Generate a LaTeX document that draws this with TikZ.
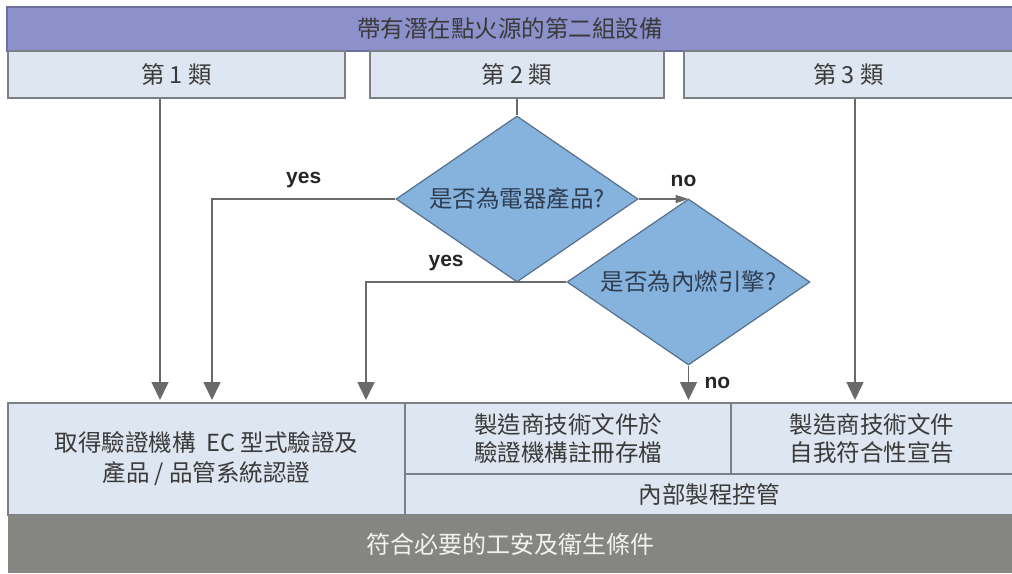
\documentclass[tikz,border=0pt]{standalone}
\usepackage{fontspec}
\setmainfont{Noto Sans CJK TC}
\newfontfamily\latin{Liberation Sans}
\usetikzlibrary{shapes.geometric,arrows.meta}
\definecolor{barpurple}{HTML}{8C91CB}
\definecolor{barline}{HTML}{6C6F9E}
\definecolor{boxblue}{HTML}{DDE6F1}
\definecolor{boxline}{HTML}{7C8086}
\definecolor{diafill}{HTML}{86B2DE}
\definecolor{dialine}{HTML}{56708C}
\definecolor{diatext}{HTML}{2F3D50}
\definecolor{flowgray}{HTML}{6A6A6A}
\definecolor{footgray}{HTML}{858681}
\definecolor{txt}{HTML}{3A3A3A}
\begin{document}
\begin{tikzpicture}[x=1pt,y=-1pt,
  box/.style={draw=boxline,line width=1.2pt,fill=boxblue,text=txt,inner sep=0pt,align=center,font=\fontsize{23.5}{28}\selectfont},
  decide/.style={diamond,draw=dialine,line width=1.2pt,fill=diafill,text=diatext,inner sep=0pt,minimum width=242pt,minimum height=166pt,font=\fontsize{23.5}{23.5}\selectfont},
  flow/.style={draw=flowgray,line width=1.6pt,-{Triangle[width=17pt,length=18pt]}},
  smallflow/.style={draw=flowgray,line width=1.6pt,-{Triangle[width=8pt,length=13pt]}},
  answer/.style={font=\latin\bfseries\fontsize{21}{21}\selectfont,text=black!85}]
\useasboundingbox (0,0) rectangle (1012,573);
\node[draw=barline,line width=1.2pt,fill=barpurple,text=txt,minimum width=1006pt,minimum height=44pt,font=\fontsize{23.5}{23.5}\selectfont] (group) at (510,29) {帶有潛在點火源的第二組設備};
\node[box,minimum width=337pt,minimum height=47pt] (cat1) at (176.5,74.5) {第 1 類};
\node[box,minimum width=294pt,minimum height=47pt] (cat2) at (517,74.5) {第 2 類};
\node[box,minimum width=329pt,minimum height=47pt] (cat3) at (848.5,74.5) {第 3 類};
\node[box,minimum width=397pt,minimum height=112pt,font=\fontsize{23.5}{30}\selectfont] (cert) at (206.5,459) {取得驗證機構\ \ EC 型式驗證及\\產品 / 品管系統認證};
\node[box,minimum width=326pt,minimum height=71pt] (tfile) at (568,438.5) {製造商技術文件於\\驗證機構註冊存檔};
\node[box,minimum width=282pt,minimum height=71pt] (selfdecl) at (872,438.5) {製造商技術文件\\自我符合性宣告};
\node[box,minimum width=608pt,minimum height=41pt] (intctrl) at (709,494.5) {內部製程控管};
\node[fill=footgray,text=white!95!black,minimum width=1005pt,minimum height=58pt,font=\fontsize{24}{24}\selectfont] (ess) at (510.5,544) {符合必要的工安及衛生條件};
\node[decide] (elec) at (517,199) {\makebox[0pt]{是否為電器產品?}};
\node[decide,minimum width=243pt] (engine) at (688.5,282) {\makebox[0pt]{是否為內燃引擎?}};
\coordinate (t1) at (160,400);
\coordinate (t2) at (212,400);
\coordinate (t3) at (366,400);
\coordinate (t4) at (688.5,400);
\coordinate (t5) at (855,400);
\draw[flow] (t1 |- cat1.south) -- (t1);
\draw[flow] (t5 |- cat3.south) -- (t5);
\draw[draw=flowgray,line width=1.6pt] (cat2.south) -- (elec.north);
\draw[flow] (elec.west) -| (t2) node[pos=0.25,above=7pt,answer] {yes};
\draw[smallflow] (elec.east) -- (elec.east -| engine.north) node[midway,above=8pt,xshift=20pt,answer] {no};
\draw[flow] (engine.west) -| (t3) node[pos=0.3,above=7pt,answer] {yes};
\draw[flow] (engine.south) -- (t4) node[midway,right=12pt,answer] {no};
\end{tikzpicture}
\end{document}
